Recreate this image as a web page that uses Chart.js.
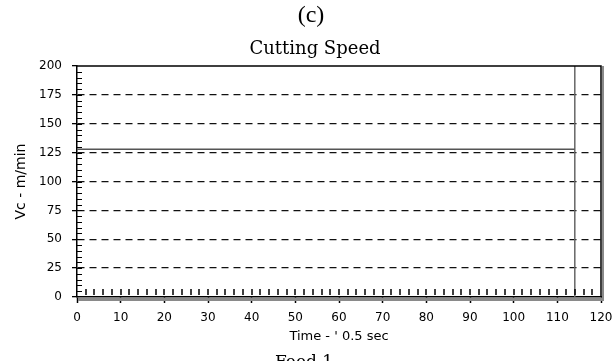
<!DOCTYPE html>
<html>
<head>
<meta charset="utf-8">
<title>Cutting Speed</title>
<script src="https://cdn.jsdelivr.net/npm/chart.js@4.4.1/dist/chart.umd.min.js"></script>
<style>
    html, body { margin: 0; padding: 0; background: #fff; }
    #grafico { display: block; }
</style>
</head>
<body>
<canvas id="grafico" width="613" height="361"></canvas>
<script>

// dados do registro de velocidade de corte
var tempo = [0, 114]
var velocidade = [128, 128]

// cursor vertical no fim do registro
var cursorTempo = [114, 114]
var cursorVc = [0, 200]

// marcas dos eixos
var ticksX = [0, 10, 20, 30, 40, 50, 60, 70, 80, 90, 100, 110, 120]
var ticksY = [0, 25, 50, 75, 100, 125, 150, 175, 200]

/**
* @description: junta dois arrays em pontos {x, y}
* @param: Array, Array
* @return: Array
*/

function pontos(xs, ys){
    return xs.map(function(v, i){ return {x: v, y: ys[i]} })
}

/**
* @description: desenha moldura, marcas menores e textos soltos do grafico
*/

var moldura = {
    id: 'moldura',
    afterDraw: function(chart){
        var ctx = chart.ctx
        var area = chart.chartArea
        var sx = chart.scales.x
        var sy = chart.scales.y

        ctx.save()

        // sombra cinza do eixo x e da borda direita
        ctx.fillStyle = '#8a8a8a'
        ctx.fillRect(area.left + 1, area.bottom + 1, area.right - area.left, 3)
        ctx.fillRect(area.right + 1, area.top, 2, area.bottom - area.top + 4)

        // borda superior e direita
        ctx.strokeStyle = '#000'
        ctx.lineWidth = 1.5
        ctx.beginPath()
        ctx.moveTo(area.left, area.top)
        ctx.lineTo(area.right, area.top)
        ctx.lineTo(area.right, area.bottom)
        ctx.stroke()

        // marcas menores do eixo y (de 5 em 5)
        ctx.lineWidth = 1
        ctx.beginPath()
        for(var v = 5; v < 200; v += 5){
            var py = Math.round(sy.getPixelForValue(v)) + 0.5
            ctx.moveTo(area.left, py)
            ctx.lineTo(area.left + 5, py)
        }
        ctx.stroke()

        // marcas menores do eixo x (de 2 em 2)
        ctx.lineWidth = 1.5
        ctx.beginPath()
        for(var t = 2; t < 120; t += 2){
            var px = Math.round(sx.getPixelForValue(t))
            ctx.moveTo(px, area.bottom - 8)
            ctx.lineTo(px, area.bottom - 2)
        }
        ctx.stroke()

        // titulos
        ctx.fillStyle = '#000'
        ctx.textAlign = 'center'
        ctx.textBaseline = 'middle'
        ctx.font = '24px "Liberation Serif"'
        ctx.fillText('(c)', 311, 16)
        ctx.font = '18px "DejaVu Serif"'
        ctx.fillText('Cutting Speed', 315, 49)

        // legenda cortada no rodape
        ctx.textBaseline = 'top'
        ctx.font = '17px "DejaVu Serif"'
        ctx.fillText('Feed 1', 304, 354)

        ctx.restore()
    }
}

/**
* @description: gera o grafico de velocidade de corte
*/

function grafico(){
    try{
        var configs = {
            canvas: document.getElementById('grafico').getContext('2d'),
            fonteTicks: {family: '"DejaVu Sans"', size: 12},
            fonteTitulo: {family: '"DejaVu Sans"', size: 13}
        }

        new Chart(
            configs.canvas,
            {
                type: 'line',
                data: {
                    datasets: [
                        {
                            label: 'Vc',
                            data: pontos(tempo, velocidade),
                            borderColor: '#555',
                            borderWidth: 1.5,
                            pointRadius: 0
                        },
                        {
                            label: 'cursor',
                            data: pontos(cursorTempo, cursorVc),
                            borderColor: '#666',
                            borderWidth: 1.5,
                            pointRadius: 0
                        }
                    ]
                },
                options: {
                    responsive: false,
                    animation: false,
                    devicePixelRatio: 1,
                    layout: {
                        padding: {top: 66, right: 12, left: 0, bottom: 0}
                    },
                    plugins: {
                        legend: {display: false},
                        tooltip: {enabled: false},
                        title: {display: false}
                    },
                    scales: {
                        x: {
                            type: 'linear',
                            min: 0,
                            max: 120,
                            afterBuildTicks: function(s){
                                s.ticks = ticksX.map(function(v){ return {value: v} })
                            },
                            afterFit: function(s){
                                s.height = 64
                                // o rotulo 120 pode vazar pela borda
                                s.paddingLeft = 0
                                s.paddingRight = 0
                            },
                            grid: {
                                drawOnChartArea: false,
                                tickLength: 6,
                                tickColor: '#000',
                                tickWidth: 1.5
                            },
                            border: {color: '#000', width: 1.5},
                            ticks: {
                                color: '#000',
                                font: configs.fonteTicks,
                                padding: 8,
                                maxRotation: 0
                            },
                            title: {
                                display: true,
                                text: "Time - ' 0.5 sec",
                                color: '#000',
                                font: configs.fonteTitulo,
                                padding: {top: 0, bottom: 17}
                            }
                        },
                        y: {
                            min: 0,
                            max: 200,
                            afterBuildTicks: function(s){
                                s.ticks = ticksY.map(function(v){ return {value: v} })
                            },
                            afterFit: function(s){
                                s.width = 77
                                s.paddingTop = 0
                                s.paddingBottom = 0
                            },
                            grid: {
                                color: function(c){
                                    var v = c.tick ? c.tick.value : 0
                                    return (v == 0 || v == 200) ? 'rgba(0,0,0,0)' : '#111'
                                },
                                lineWidth: 1.3,
                                tickLength: 5,
                                tickColor: '#000',
                                tickBorderDash: []
                            },
                            // no v4 o tracejado das linhas de grade fica em border.dash
                            border: {color: '#000', width: 1.5, dash: [7, 5]},
                            ticks: {
                                color: '#000',
                                font: configs.fonteTicks,
                                padding: 10
                            },
                            title: {
                                display: true,
                                text: 'Vc - m/min',
                                color: '#000',
                                font: {family: '"DejaVu Sans"', size: 14},
                                padding: {top: 13, bottom: 0}
                            }
                        }
                    }
                },
                plugins: [moldura]
            }
        )
    }catch(e){console.log(e)}
}

grafico()
</script>
</body>
</html>
